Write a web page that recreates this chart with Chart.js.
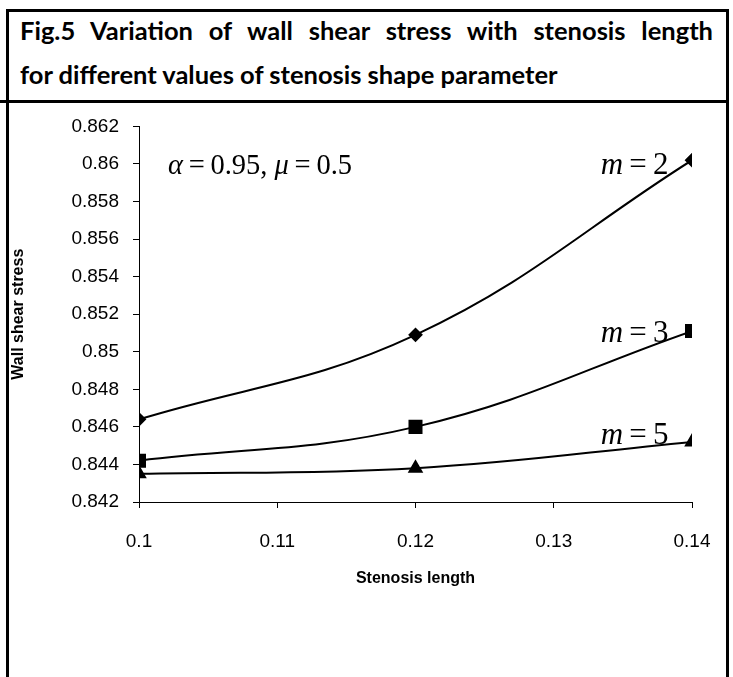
<!DOCTYPE html>
<html>
<head>
<meta charset="utf-8">
<script src="https://cdn.jsdelivr.net/npm/chart.js@4.4.1/dist/chart.umd.min.js"></script>
<style>
    html, body { margin: 0; padding: 0; background: #fff; }
    body { width: 733px; height: 677px; position: relative; overflow: hidden; }
    .frame { position: absolute; background: #000; }
    .tline {
        position: absolute; left: 20px; width: 693px; white-space: nowrap;
        font-family: Lato, "Open Sans", sans-serif; font-weight: bold; font-size: 25.5px;
        line-height: 30px; color: #000;
    }
    #t1 { top: 15px; white-space: normal; text-align: justify; text-align-last: justify; }
    #t2 { top: 59px; }
    #wrap { position: absolute; left: 9px; top: 101px; width: 716px; height: 576px; }
</style>
</head>
<body>
<div class="frame" style="left:6px;top:9px;width:3px;height:668px"></div>
<div class="frame" style="left:6px;top:9px;width:723px;height:3px"></div>
<div class="frame" style="left:726px;top:9px;width:3px;height:668px"></div>
<div class="frame" style="left:0;top:100px;width:729px;height:3px"></div>
<div class="tline" id="t1">Fig.5 Variation of wall shear stress with stenosis length</div>
<div class="tline" id="t2">for different values of stenosis shape parameter</div>
<div id="wrap"><canvas id="chart"></canvas></div>
<script>
    // stenosis length values on the x axis
    const lengths = [0.1, 0.12, 0.14];
    // wall shear stress for each m
    const m2 = [0.8464, 0.8509, 0.8602];
    const m3 = [0.8442, 0.8460, 0.8511];
    const m5 = [0.8435, 0.8438, 0.8452];
    const yTicks = [0.842, 0.844, 0.846, 0.848, 0.85, 0.852, 0.854, 0.856, 0.858, 0.86, 0.862];
    const xTicks = [0.1, 0.11, 0.12, 0.13, 0.14];

    const toPts = (ys) => lengths.map((x, i) => ({ x: x, y: ys[i] }));

    let serif = '"Liberation Serif", "Times New Roman", serif';
    let sans = '"Liberation Sans", Arial, sans-serif';
    const thin = '\u2009';

    // draws a run of [text, italic] parts starting at px,py
    function drawParts(ctx, parts, px, py, size){
        let cx = px;
        parts.forEach(function(p){
            ctx.font = (p[1] ? 'italic ' : '') + size + 'px ' + serif;
            ctx.fillText(p[0], cx, py);
            cx += ctx.measureText(p[0]).width;
        });
    }

    const notes = [
        { x: 0.1021, y: 0.85947, size: 28.5, parts: [['α', true], [thin + '=' + thin + '0.95, ', false], ['μ', true], [thin + '=' + thin + '0.5', false]] },
        { x: 0.1334, y: 0.85947, size: 31, parts: [['m', true], [thin + '=' + thin + '2', false]] },
        { x: 0.1334, y: 0.85054, size: 31, parts: [['m', true], [thin + '=' + thin + '3', false]] },
        { x: 0.1334, y: 0.84508, size: 31, parts: [['m', true], [thin + '=' + thin + '5', false]] }
    ];

    const notePlugin = {
        id: 'notes',
        afterDatasetsDraw(chart){
            let ctx = chart.ctx;
            ctx.save();
            ctx.fillStyle = '#000';
            ctx.textBaseline = 'alphabetic';
            notes.forEach(function(n){
                drawParts(ctx, n.parts, chart.scales.x.getPixelForValue(n.x), chart.scales.y.getPixelForValue(n.y), n.size);
            });
            ctx.restore();
        }
    };

    let lineStyle = {
        borderColor: '#000',
        backgroundColor: '#000',
        pointBorderColor: '#000',
        pointBackgroundColor: '#000',
        borderWidth: 2,
        tension: 0.4,
        fill: false
    };

    let ctx = document.getElementById('chart');
    let chart = new Chart(ctx, {
        type: 'line',
        data: {
            datasets: [
                { ...lineStyle, label: 'm = 2', data: toPts(m2), pointStyle: 'rectRot', pointRadius: 6 },
                { ...lineStyle, label: 'm = 3', data: toPts(m3), pointStyle: 'rect', pointRadius: 8.5 },
                { ...lineStyle, label: 'm = 5', data: toPts(m5), pointStyle: 'triangle', pointRadius: 7 }
            ]
        },
        options: {
            responsive: false,
            animation: false,
            maintainAspectRatio: false,
            layout: { padding: { top: 4, right: 33, bottom: 85, left: 0 } },
            plugins: {
                legend: { display: false },
                tooltip: { enabled: false }
            },
            scales: {
                x: {
                    type: 'linear',
                    min: 0.1,
                    max: 0.14,
                    afterBuildTicks: function(axis){ axis.ticks = xTicks.map(v => ({ value: v })); },
                    border: { color: '#000', width: 1 },
                    grid: { display: true, drawOnChartArea: false, drawTicks: true, tickLength: 6, color: '#000' },
                    ticks: {
                        color: '#000',
                        padding: 22,
                        maxRotation: 0,
                        font: { family: sans, size: 19 },
                        callback: (v) => String(parseFloat(v.toFixed(3)))
                    },
                    title: {
                        display: true,
                        text: 'Stenosis length',
                        color: '#000',
                        padding: { top: -6, bottom: 4 },
                        font: { family: sans, size: 16, weight: 'bold' }
                    },
                    // label padding should not push the plot edge in
                    afterFit: function(scale){ scale.paddingRight = 0; scale.paddingLeft = 0; }
                },
                y: {
                    type: 'linear',
                    min: 0.842,
                    max: 0.862,
                    afterBuildTicks: function(axis){ axis.ticks = yTicks.map(v => ({ value: v })); },
                    border: { color: '#000', width: 1 },
                    grid: { display: true, drawOnChartArea: false, drawTicks: true, tickLength: 6, color: '#000' },
                    ticks: {
                        color: '#000',
                        padding: 14,
                        font: { family: sans, size: 19 },
                        callback: (v) => String(parseFloat(v.toFixed(3)))
                    },
                    title: {
                        display: true,
                        text: 'Wall shear stress',
                        color: '#000',
                        padding: { top: 0, bottom: 4 },
                        font: { family: sans, size: 16, weight: 'bold' }
                    },
                    afterFit: function(scale){ scale.width = 130; }
                }
            }
        },
        plugins: [notePlugin]
    });
    chart.resize(716, 576);
</script>
</body>
</html>
